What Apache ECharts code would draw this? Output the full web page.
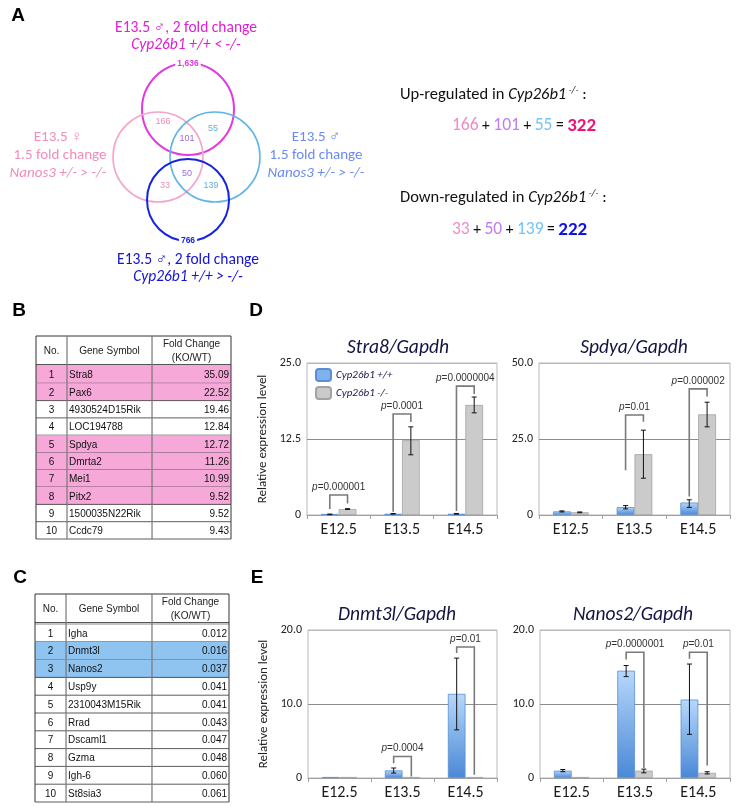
<!DOCTYPE html>
<html><head><meta charset="utf-8">
<script src="https://cdn.jsdelivr.net/npm/echarts@6/dist/echarts.min.js"></script>
<style>html,body{margin:0;padding:0;background:#fff}#c{width:740px;height:810px}</style>
</head><body><div id="c"></div>
<script>
// ================= DATA =================
const stages = ['E12.5', 'E13.5', 'E14.5'];
const seriesNames = ['Cyp26b1 +/+', 'Cyp26b1 -/-'];

// Stra8/Gapdh
const stra8WT = [0.1, 0.2, 0.2];
const stra8KO = [0.98, 12.3, 18.1];
const stra8WTErr = [[0.05, 0.15], [0.15, 0.25], [0.15, 0.25]];
const stra8KOErr = [[0.92, 1.04], [9.9, 14.5], [16.8, 19.4]];
const stra8P = ['0.000001', '0.0001', '0.0000004'];
const stra8Bracket = [[3.3, 1.0, 1.9], [16.6, 0.55, 15.3], [21.2, 0.65, 19.9]]; // [top, left end, right end]

// Spdya/Gapdh
const spdyaWT = [1.2, 2.6, 4.1];
const spdyaKO = [0.9, 20.0, 33.1];
const spdyaWTErr = [[1.0, 1.35], [2.0, 3.1], [2.5, 5.0]];
const spdyaKOErr = [[0.75, 1.0], [12.1, 27.9], [29.0, 37.1]];
const spdyaP = [null, '0.01', '0.000002'];
const spdyaBracket = [null, [32.9, 14.7, 30.7], [41.5, 6.1, 39.0]];

// Dnmt3l/Gapdh
const dnmt3lWT = [0.05, 1.03, 11.37];
const dnmt3lKO = [0.02, 0.03, 0.05];
const dnmt3lWTErr = [null, [0.67, 1.35], [6.5, 16.2]];
const dnmt3lKOErr = [null, null, null];
const dnmt3lP = [null, '0.0004', '0.01'];
const dnmt3lBracket = [null, [2.9, 2.0, 0.2], [17.7, 16.9, 0.45]];

// Nanos2/Gapdh
const nanos2WT = [0.99, 14.5, 10.6];
const nanos2KO = [0.1, 1.0, 0.7];
const nanos2WTErr = [[0.85, 1.15], [13.7, 15.2], [5.9, 15.4]];
const nanos2KOErr = [null, [0.7, 1.2], [0.55, 0.85]];
const nanos2P = [null, '0.0000001', '0.01'];
const nanos2Bracket = [null, [17.0, 16.0, 1.35], [17.0, 16.1, 1.7]];

// Table B (up-regulated)
const tableBNo = ['1','2','3','4','5','6','7','8','9','10'];
const tableBGene = ['Stra8','Pax6','4930524D15Rik','LOC194788','Spdya','Dmrta2','Mei1','Pitx2','1500035N22Rik','Ccdc79'];
const tableBFold = ['35.09','22.52','19.46','12.84','12.72','11.26','10.99','9.52','9.52','9.43'];
const tableBHighlight = [1,1,0,0,1,1,1,1,0,0];

// Table C (down-regulated)
const tableCNo = ['1','2','3','4','5','6','7','8','9','10'];
const tableCGene = ['Igha','Dnmt3l','Nanos2','Usp9y','2310043M15Rik','Rrad','Dscaml1','Gzma','Igh-6','St8sia3'];
const tableCFold = ['0.012','0.016','0.037','0.041','0.041','0.043','0.047','0.048','0.060','0.061'];
const tableCHighlight = [0,1,1,0,0,0,0,0,0,0];

const tableHeader = ['No.', 'Gene Symbol', 'Fold Change', '(KO/WT)'];

// Venn
const vennTotals = ['1,636', '766'];
const vennCounts = ['166', '55', '101', '50', '33', '139'];
const upTerms = ['166', '101', '55', '322'];
const downTerms = ['33', '50', '139', '222'];

// ================= STYLE / LAYOUT =================
const CAL = "Carlito, Lato, 'Noto Sans', sans-serif";
const ARI = "'Liberation Sans', Arial, sans-serif";
const BLUE_GRAD = new echarts.graphic.LinearGradient(0, 0, 0, 1, [
  {offset: 0, color: '#b6d8fb'}, {offset: 1, color: '#4a88d6'}]);
const GRAY = '#cbcbcb';
const HALF = 0.14;

const charts = [
  {title: 'Stra8/Gapdh', tx: 398, ty: 348, grid: {left: 307, top: 363, width: 190, height: 152}, max: 25, interval: 12.5,
   wt: stra8WT, ko: stra8KO, wtErr: stra8WTErr, koErr: stra8KOErr, p: stra8P, br: stra8Bracket, yname: true},
  {title: 'Spdya/Gapdh', tx: 634, ty: 348, grid: {left: 539, top: 363, width: 191, height: 152}, max: 50, interval: 25,
   wt: spdyaWT, ko: spdyaKO, wtErr: spdyaWTErr, koErr: spdyaKOErr, p: spdyaP, br: spdyaBracket, yname: false},
  {title: 'Dnmt3l/Gapdh', tx: 397, ty: 615, grid: {left: 308, top: 630, width: 189, height: 148}, max: 20, interval: 10,
   wt: dnmt3lWT, ko: dnmt3lKO, wtErr: dnmt3lWTErr, koErr: dnmt3lKOErr, p: dnmt3lP, br: dnmt3lBracket, yname: true},
  {title: 'Nanos2/Gapdh', tx: 633, ty: 615, grid: {left: 540, top: 630, width: 190, height: 148}, max: 20, interval: 10,
   wt: nanos2WT, ko: nanos2KO, wtErr: nanos2WTErr, koErr: nanos2KOErr, p: nanos2P, br: nanos2Bracket, yname: false}
];

function errRender(params, api) {
  const cat = api.value(0), lo = api.value(1), hi = api.value(2), side = api.value(3);
  const band = api.size([1, 0])[0];
  const off = (side === 0 ? -1 : 1) * band * HALF;
  const p1 = api.coord([cat, lo]), p2 = api.coord([cat, hi]);
  const x = p1[0] + off;
  const st = {stroke: '#111', lineWidth: 1};
  return {type: 'group', children: [
    {type: 'line', shape: {x1: x, y1: p1[1], x2: x, y2: p2[1]}, style: st},
    {type: 'line', shape: {x1: x - 2.5, y1: p1[1], x2: x + 2.5, y2: p1[1]}, style: st},
    {type: 'line', shape: {x1: x - 2.5, y1: p2[1], x2: x + 2.5, y2: p2[1]}, style: st}
  ]};
}

function makeBracketRender(pArr) {
  return function (params, api) {
    const cat = api.value(0);
    const band = api.size([1, 0])[0];
    const top = api.coord([cat, api.value(1)]);
    const lb = api.coord([cat, api.value(2)]);
    const rb = api.coord([cat, api.value(3)]);
    const xl = top[0] - band * HALF, xr = top[0] + band * HALF;
    const st = {stroke: '#7a7a7a', lineWidth: 1.6, fill: null};
    return {type: 'group', children: [
      {type: 'polyline', shape: {points: [[xl, lb[1]], [xl, top[1]], [xr, top[1]], [xr, rb[1]]]}, style: st},
      {type: 'text', x: top[0], y: top[1] - 3, style: {
        text: '{i|p}{n|=' + pArr[cat] + '}', align: 'center', verticalAlign: 'bottom',
        textAlign: 'center', textVerticalAlign: 'bottom',
        rich: {i: {fontStyle: 'italic', fontSize: 10, fontFamily: ARI, fill: '#333', color: '#333'},
               n: {fontSize: 10, fontFamily: ARI, fill: '#333', color: '#333'}}}}
    ]};
  };
}

const grids = [], xAxes = [], yAxes = [], series = [], graphic = [];

charts.forEach((c, gi) => {
  grids.push(Object.assign({show: true, borderColor: '#b8b8b8', borderWidth: 1, backgroundColor: 'transparent'}, c.grid));
  xAxes.push({type: 'category', gridIndex: gi, data: stages,
    axisLine: {lineStyle: {color: '#a0a0a0'}},
    axisTick: {show: true, alignWithLabel: false, length: 4, lineStyle: {color: '#a0a0a0'}},
    axisLabel: {fontSize: 16, color: '#1a1a1a', fontFamily: CAL, margin: 7}});
  yAxes.push({type: 'value', gridIndex: gi, min: 0, max: c.max, interval: c.interval,
    axisLine: {show: false}, axisTick: {show: false},
    axisLabel: {fontSize: 12, color: '#222', fontFamily: CAL, margin: 6,
      formatter: v => v === 0 ? '0' : v.toFixed(1)},
    splitLine: {lineStyle: {color: ['#b8b8b8', '#8c8c8c', '#b8b8b8'], width: 1}},
    name: c.yname ? 'Relative expression level' : '', nameLocation: 'middle', nameGap: 38, nameRotate: 90,
    nameTextStyle: {fontSize: 13, fontFamily: CAL, color: '#222'}});
  series.push({type: 'bar', name: seriesNames[0], xAxisIndex: gi, yAxisIndex: gi, data: c.wt,
    barWidth: '28%', barGap: '0%', barMinHeight: 1,
    itemStyle: {color: BLUE_GRAD, borderColor: '#5b8fd3', borderWidth: 0.8}, emphasis: {disabled: true}});
  series.push({type: 'bar', name: seriesNames[1], xAxisIndex: gi, yAxisIndex: gi, data: c.ko,
    barWidth: '28%', barGap: '0%', barMinHeight: 1,
    itemStyle: {color: GRAY, borderColor: '#a3a3a3', borderWidth: 0.8}, emphasis: {disabled: true}});
  const errData = [];
  c.wtErr.forEach((e, i) => { if (e) errData.push([i, e[0], e[1], 0]); });
  c.koErr.forEach((e, i) => { if (e) errData.push([i, e[0], e[1], 1]); });
  series.push({type: 'custom', xAxisIndex: gi, yAxisIndex: gi, renderItem: errRender, data: errData,
    encode: {x: 0, y: [1, 2]}, z: 5, silent: true});
  const brData = [];
  c.br.forEach((b, i) => { if (b) brData.push([i, b[0], b[1], b[2]]); });
  series.push({type: 'custom', xAxisIndex: gi, yAxisIndex: gi, renderItem: makeBracketRender(c.p), data: brData,
    encode: {x: 0, y: [1, 2, 3]}, z: 6, silent: true, clip: false});
  graphic.push({type: 'text', x: c.tx, y: c.ty, style: {text: c.title, fill: '#141442',
    font: 'italic 19.5px ' + CAL, align: 'center', verticalAlign: 'middle', textAlign: 'center', textVerticalAlign: 'middle'}});
});

// ---------- Tables ----------
const tables = [
  {grid: {left: 36, top: 366, width: 195, height: 173}, hdrTop: 336, cols: [0, 0.159, 0.595, 1],
   no: tableBNo, gene: tableBGene, fold: tableBFold, hl: tableBHighlight, hlColor: '#f6a8d8'},
  {grid: {left: 35, top: 624, width: 194, height: 178}, hdrTop: 594, cols: [0, 0.16, 0.603, 1],
   no: tableCNo, gene: tableCGene, fold: tableCFold, hl: tableCHighlight, hlColor: '#8fc4f1'}
];

function makeTableRender(t) {
  return function (params, api) {
    const i = params.dataIndex;
    const c = api.coord([0, i]);
    const h = api.size([0, 1])[1];
    const y0 = c[1] - h / 2, y1 = c[1] + h / 2;
    const xs = t.cols.map(f => api.coord([f, i])[0]);
    const children = [];
    if (t.hl[i]) children.push({type: 'rect', shape: {x: xs[0], y: y0, width: xs[3] - xs[0], height: h}, style: {fill: t.hlColor}});
    children.push({type: 'line', shape: {x1: xs[0], y1: y1, x2: xs[3], y2: y1}, style: {stroke: '#333', lineWidth: 0.8}});
    [0, 1, 2, 3].forEach(k => children.push({type: 'line', shape: {x1: xs[k], y1: y0, x2: xs[k], y2: y1},
      style: {stroke: k === 0 || k === 3 ? '#333' : '#777', lineWidth: k === 0 || k === 3 ? 1 : 1.2}}));
    const ts = (txt, x, al) => ({type: 'text', x: x, y: c[1] + 1, style: {text: txt, font: '10px ' + ARI, fill: '#111',
      align: al, verticalAlign: 'middle', textAlign: al, textVerticalAlign: 'middle'}});
    children.push(ts(t.no[i], (xs[0] + xs[1]) / 2, 'center'));
    children.push(ts(t.gene[i], xs[1] + 2, 'left'));
    children.push(ts(t.fold[i], xs[3] - 2, 'right'));
    return {type: 'group', children: children};
  };
}

tables.forEach((t, k) => {
  const gi = charts.length + k;
  grids.push(Object.assign({show: false}, t.grid));
  xAxes.push({type: 'value', gridIndex: gi, min: 0, max: 1, show: false});
  yAxes.push({type: 'category', gridIndex: gi, data: t.no, inverse: true, show: false});
  series.push({type: 'custom', xAxisIndex: gi, yAxisIndex: gi, renderItem: makeTableRender(t),
    data: t.no.map((n, i) => [0.5, i]), encode: {x: 0, y: 1}, silent: true, clip: false});
  // header
  const L = t.grid.left, W = t.grid.width, T = t.hdrTop, B = t.grid.top;
  const xs = t.cols.map(f => L + f * W);
  const hs = {stroke: '#333', lineWidth: 1};
  graphic.push({type: 'line', shape: {x1: xs[0], y1: T, x2: xs[3], y2: T}, style: hs});
  graphic.push({type: 'line', shape: {x1: xs[0], y1: B - 1.5, x2: xs[3], y2: B - 1.5}, style: {stroke: '#555', lineWidth: 1}});
  graphic.push({type: 'line', shape: {x1: xs[0], y1: B, x2: xs[3], y2: B}, style: {stroke: '#888', lineWidth: 1}});
  [0, 1, 2, 3].forEach(q => graphic.push({type: 'line', shape: {x1: xs[q], y1: T, x2: xs[q], y2: B},
    style: {stroke: q === 0 || q === 3 ? '#333' : '#777', lineWidth: q === 0 || q === 3 ? 1 : 1.2}}));
  const hm = (T + B) / 2;
  const htxt = (txt, x, y) => ({type: 'text', x: x, y: y, style: {text: txt, font: '10px ' + ARI, fill: '#222',
    align: 'center', verticalAlign: 'middle', textAlign: 'center', textVerticalAlign: 'middle'}});
  graphic.push(htxt(tableHeader[0], (xs[0] + xs[1]) / 2, hm));
  graphic.push(htxt(tableHeader[1], (xs[1] + xs[2]) / 2, hm));
  graphic.push(htxt(tableHeader[2], (xs[2] + xs[3]) / 2, hm - 7));
  graphic.push(htxt(tableHeader[3], (xs[2] + xs[3]) / 2, hm + 7));
});

// ---------- Panel letters ----------
[['A', 18, 16], ['B', 19, 311], ['C', 20, 578], ['D', 256, 311], ['E', 257, 578]].forEach(a => {
  graphic.push({type: 'text', x: a[1], y: a[2], style: {text: a[0], font: 'bold 19px ' + ARI, fill: '#000',
    align: 'center', verticalAlign: 'middle', textAlign: 'center', textVerticalAlign: 'middle'}});
});

// ---------- Venn ----------
const circles = [
  {cx: 188, cy: 109, r: 46, c: '#e23ae0', w: 2},
  {cx: 158, cy: 157, r: 45, c: '#f4a6cc', w: 1.6},
  {cx: 215, cy: 157, r: 45, c: '#62b6e6', w: 1.6},
  {cx: 188, cy: 200, r: 41, c: '#1424e0', w: 2}
];
circles.forEach(ci => graphic.push({type: 'circle', shape: {cx: ci.cx, cy: ci.cy, r: ci.r},
  style: {fill: 'none', stroke: ci.c, lineWidth: ci.w}}));

function vtext(txt, x, y, color, font, extra) {
  return {type: 'text', x: x, y: y, z: 10, style: Object.assign({text: txt, fill: color, font: font,
    align: 'center', verticalAlign: 'middle', textAlign: 'center', textVerticalAlign: 'middle'}, extra || {})};
}
graphic.push(vtext(vennTotals[0], 188, 64, '#e23ae0', 'bold 8.5px ' + ARI, {backgroundColor: '#fff', padding: [0, 2]}));
graphic.push(vtext(vennTotals[1], 188, 241, '#1424e0', 'bold 8.5px ' + ARI, {backgroundColor: '#fff', padding: [0, 2]}));
const countPos = [[163, 122, '#f08ab8'], [213, 129, '#5fb0e0'], [187, 139, '#9a6ae0'], [187, 174, '#9a6ae0'], [165, 186, '#f08ab8'], [211, 186, '#5fb0e0']];
vennCounts.forEach((v, i) => graphic.push(vtext(v, countPos[i][0], countPos[i][1], countPos[i][2], '9px ' + ARI)));

const VF = '15.5px ' + CAL, VFI = 'italic 15.5px ' + CAL, VF2 = '15px ' + CAL, VFI2 = 'italic 15px ' + CAL;
graphic.push(vtext('E13.5 \u2642, 2 fold change', 186, 28, '#e020d4', VF));
graphic.push(vtext('Cyp26b1 +/+ < -/-', 186, 45, '#e020d4', VFI));
graphic.push(vtext('E13.5 \u2640', 58, 137, '#f28cbc', VF2));
graphic.push(vtext('1.5 fold change', 60, 155, '#f28cbc', VF2));
graphic.push(vtext('Nanos3 +/- > -/-', 58, 173, '#f28cbc', VFI2));
graphic.push(vtext('E13.5 \u2642', 316, 137, '#6a8af0', VF2));
graphic.push(vtext('1.5 fold change', 316, 155, '#6a8af0', VF2));
graphic.push(vtext('Nanos3 +/- > -/-', 316, 173, '#6a8af0', VFI2));
graphic.push(vtext('E13.5 \u2642, 2 fold change', 188, 260, '#1414d4', VF));
graphic.push(vtext('Cyp26b1 +/+ > -/-', 188, 277, '#1414d4', VFI));

// ---------- Summary text ----------
const richBase = {
  t: {fontSize: 16.5, fontFamily: CAL, fill: '#111', color: '#111'},
  it: {fontSize: 16.5, fontFamily: CAL, fontStyle: 'italic', fill: '#111', color: '#111'},
  sup: {fontSize: 10, fontFamily: CAL, fontStyle: 'italic', fill: '#111', color: '#111', verticalAlign: 'top', padding: [0, 0, 10, 0]},
  pk: {fontSize: 17.5, fontFamily: CAL, fill: '#f08ad0', color: '#f08ad0'},
  pu: {fontSize: 17.5, fontFamily: CAL, fill: '#c07ef0', color: '#c07ef0'},
  bl: {fontSize: 17.5, fontFamily: CAL, fill: '#74c4f4', color: '#74c4f4'},
  op: {fontSize: 15.5, fontFamily: CAL, fill: '#111', color: '#111'},
  r1: {fontSize: 19, fontFamily: CAL, fontWeight: 'bold', fill: '#ec1572', color: '#ec1572'},
  r2: {fontSize: 19, fontFamily: CAL, fontWeight: 'bold', fill: '#1010e6', color: '#1010e6'}
};
function rtext(txt, x, y) {
  return {type: 'text', x: x, y: y, style: {text: txt, rich: richBase, align: 'left', verticalAlign: 'middle',
    textAlign: 'left', textVerticalAlign: 'middle', font: '16px ' + CAL, fill: '#111'}};
}
graphic.push(rtext('{t|Up-regulated in }{it|Cyp26b1}{sup| -/-}{t| :}', 400, 95));
graphic.push(rtext('{pk|' + upTerms[0] + '}{op| + }{pu|' + upTerms[1] + '}{op| + }{bl|' + upTerms[2] + '}{op| = }{r1|' + upTerms[3] + '}', 452, 126));
graphic.push(rtext('{t|Down-regulated in }{it|Cyp26b1}{sup| -/-}{t| :}', 400, 198));
graphic.push(rtext('{pk|' + downTerms[0] + '}{op| + }{pu|' + downTerms[1] + '}{op| + }{bl|' + downTerms[2] + '}{op| = }{r2|' + downTerms[3] + '}', 452, 230));

const option = {
  animation: false,
  backgroundColor: '#fff',
  grid: grids, xAxis: xAxes, yAxis: yAxes, series: series, graphic: graphic,
  legend: {data: [{name: seriesNames[0], itemStyle: {color: '#7fb2ec', borderColor: '#5b8fd3'}},
                   {name: seriesNames[1], itemStyle: {color: GRAY, borderColor: '#a3a3a3'}}],
    orient: 'vertical', left: 315, top: 368, padding: 0, itemWidth: 15, itemHeight: 12, itemGap: 4, selectedMode: false,
    textStyle: {fontSize: 11, fontStyle: 'italic', fontFamily: CAL, color: '#16164e'}}
};
const chart = echarts.init(document.getElementById('c'), null, {renderer: 'canvas'});
chart.setOption(option);
</script></body></html>
